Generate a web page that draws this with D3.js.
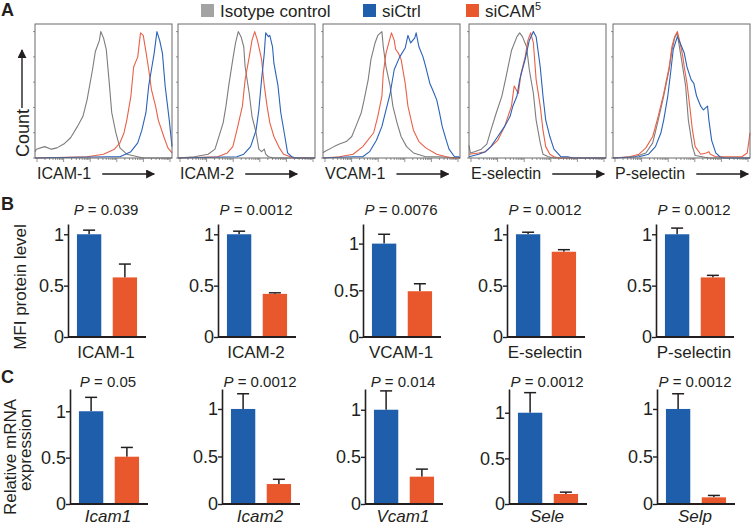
<!DOCTYPE html>
<html><head><meta charset="utf-8">
<script src="https://cdn.jsdelivr.net/npm/d3@7"></script>
<style>
body{margin:0;background:#fff}
svg text{font-family:"Liberation Sans",Arial,Helvetica,sans-serif;fill:#231f20}
</style>
</head><body>
<svg id="chart" width="751" height="528"></svg>
<script>
// ---------- DATA ----------
const legendLabels = ["Isotype control", "siCtrl", "siCAM"];
const histMarkers = ["ICAM-1", "ICAM-2", "VCAM-1", "E-selectin", "P-selectin"];
// histogram curves: [relative fluorescence position (0-100), % of max count]
const isotypeHist = [
  [[0,5],[1,7],[7,9],[12,7],[16,8],[21,11],[26,16],[31,25],[35,33],[38,46],[42,70],[44,84],[47,93],[48,100],[50,95],[52,86],[54,62],[56,36],[59,20],[62,8],[67,3],[75,1],[79,0],[100,0]],
  [[0,0],[12,1],[22,3],[27,7],[29,14],[33,28],[35,41],[37,57],[40,78],[42,91],[44,100],[46,96],[48,88],[49,72],[52,51],[54,33],[57,20],[59,7],[61,5],[63,7],[64,3],[66,1],[70,0],[100,0]],
  [[0,4],[1,5],[8,9],[12,11],[17,13],[21,17],[24,25],[28,36],[30,46],[33,62],[35,78],[38,91],[40,97],[43,100],[44,88],[46,72],[49,57],[51,41],[54,28],[57,17],[61,9],[66,4],[75,1],[85,1],[100,0]],
  [[0,10],[1,4],[4,5],[9,7],[13,11],[16,22],[20,36],[24,49],[27,64],[31,85],[35,96],[37,99],[39,96],[42,88],[44,70],[47,51],[49,30],[52,12],[54,3],[58,1],[62,0],[100,0]],
  [[0,0],[16,1],[24,4],[29,12],[33,30],[37,49],[41,70],[43,85],[45,95],[47,99],[48,91],[50,78],[53,57],[55,30],[58,9],[60,2],[65,1],[70,0],[100,0]]
];
const siCtrlHist = [
  [[0,0],[53,1],[62,1],[70,5],[75,12],[78,22],[81,36],[83,57],[85,70],[87,83],[89,100],[91,93],[93,83],[95,57],[98,30],[100,9]],
  [[0,0],[43,1],[48,3],[53,9],[57,22],[59,38],[61,62],[63,83],[64,99],[66,96],[67,97],[69,88],[70,75],[73,57],[75,36],[78,17],[80,4],[83,1],[86,0],[100,0]],
  [[0,0],[22,1],[29,1],[34,5],[39,14],[43,25],[46,38],[49,51],[52,70],[56,80],[60,87],[62,97],[64,91],[67,95],[68,99],[70,88],[73,80],[75,72],[78,59],[80,54],[83,46],[85,36],[87,25],[90,14],[92,7],[96,1],[99,1],[100,0]],
  [[0,1],[7,3],[12,5],[16,9],[21,17],[26,25],[30,33],[32,41],[35,49],[37,62],[41,78],[44,93],[47,100],[49,96],[52,72],[54,49],[56,30],[59,17],[62,7],[67,1],[72,1],[76,0],[100,0]],
  [[0,0],[19,1],[26,3],[31,9],[35,20],[37,30],[40,49],[42,67],[44,86],[47,96],[49,91],[52,83],[54,72],[57,62],[59,59],[61,49],[64,41],[66,38],[69,41],[70,30],[72,14],[75,4],[78,1],[81,0],[100,0]]
];
const siCAMHist = [
  [[0,0],[38,1],[50,3],[58,7],[62,12],[65,20],[67,30],[70,49],[72,72],[75,80],[77,99],[79,97],[81,84],[83,70],[85,54],[88,41],[90,30],[94,17],[97,8],[100,4]],
  [[0,0],[29,1],[36,4],[40,9],[43,22],[47,41],[49,62],[52,80],[54,93],[56,100],[58,93],[61,78],[63,57],[65,41],[67,28],[70,17],[74,8],[77,3],[82,1],[86,0],[100,0]],
  [[0,0],[12,1],[22,3],[29,9],[37,20],[40,33],[43,49],[44,67],[46,83],[48,91],[50,99],[52,93],[53,86],[55,83],[57,78],[60,59],[62,41],[66,22],[70,13],[75,8],[83,3],[90,1],[94,0],[100,0]],
  [[0,3],[7,4],[12,5],[16,9],[21,14],[26,25],[31,41],[33,57],[36,51],[38,67],[41,80],[43,93],[45,99],[47,91],[49,62],[52,41],[54,22],[56,9],[59,3],[62,1],[66,0],[100,0]],
  [[0,0],[12,1],[19,3],[24,8],[29,17],[33,33],[37,51],[41,72],[43,88],[45,96],[47,100],[49,91],[51,80],[52,72],[54,59],[56,41],[58,22],[60,9],[64,3],[68,4],[70,5],[71,3],[75,1],[94,1],[98,4],[100,20]]
];

const groups = ["siCtrl", "siCAM5"];
const yTickValues = [0, 0.5, 1];

const proteinLabels = ["ICAM-1", "ICAM-2", "VCAM-1", "E-selectin", "P-selectin"];
const proteinP = ["0.039", "0.0012", "0.0076", "0.0012", "0.0012"];
const proteinCtrl = [1, 1, 1, 1, 1];
const proteinCtrlErr = [0.04, 0.03, 0.10, 0.02, 0.06];
const proteinCAM = [0.58, 0.42, 0.49, 0.83, 0.58];
const proteinCAMErr = [0.13, 0.01, 0.08, 0.02, 0.02];

const mrnaLabels = ["Icam1", "Icam2", "Vcam1", "Sele", "Selp"];
const mrnaP = ["0.05", "0.0012", "0.014", "0.0012", "0.0012"];
const mrnaCtrl = [1, 1, 1, 1, 1];
const mrnaCtrlErr = [0.15, 0.16, 0.20, 0.22, 0.16];
const mrnaCAM = [0.51, 0.21, 0.29, 0.11, 0.07];
const mrnaCAMErr = [0.10, 0.05, 0.08, 0.02, 0.02];

// ---------- STYLE / LAYOUT ----------
const COL = {iso: "#a3a3a3", ctrl: "#1e5eab", cam: "#e9572c",
             isoLine: "#7d7d7d", ctrlLine: "#2a62b8", camLine: "#ea6048"};
const svg = d3.select("#chart");

// panel letters
[["A", 16], ["B", 210], ["C", 383]].forEach(([t, y]) =>
  svg.append("text").attr("x", 1).attr("y", y).attr("font-size", 18)
     .attr("font-weight", "bold").text(t));

// legend
const legendItems = [
  {label: legendLabels[0], color: COL.iso, x: 201},
  {label: legendLabels[1], color: COL.ctrl, x: 363},
  {label: legendLabels[2], color: COL.cam, x: 466, sup: "5"}
];
legendItems.forEach(d => {
  svg.append("rect").attr("x", d.x).attr("y", 4).attr("width", 13).attr("height", 13).attr("fill", d.color);
  const t = svg.append("text").attr("x", d.x + 19).attr("y", 17).attr("font-size", 17).text(d.label);
  if (d.sup) t.append("tspan").attr("font-size", 11).attr("dy", -7).text(d.sup);
});

// arrow marker
const defs = svg.append("defs");
defs.append("marker").attr("id", "arr").attr("viewBox", "0 0 10 10")
  .attr("refX", 9).attr("refY", 5).attr("markerWidth", 9).attr("markerHeight", 9)
  .attr("markerUnits", "userSpaceOnUse").attr("orient", "auto")
  .append("path").attr("d", "M0,0 L10,5 L0,10 Z").attr("fill", "#231f20");

// ---------- PANEL A ----------
const boxX = [35, 178, 323, 469, 613], boxW = 137, boxTop = 24, boxBot = 158;
const hy = d3.scaleLinear().domain([0, 106]).range([boxBot, boxTop]);
histMarkers.forEach((m, i) => {
  const g = svg.append("g");
  const hx = d3.scaleLinear().domain([0, 100]).range([boxX[i], boxX[i] + boxW]);
  const line = d3.line().x(d => hx(d[0])).y(d => hy(d[1]));
  // ticks
  const lx = d3.scaleLog().domain([1, 1e5]).range([boxX[i] + 2, boxX[i] + boxW - 2]);
  const ticks = lx.ticks();
  g.selectAll(".bt").data(ticks).join("line")
    .attr("x1", d => lx(d)).attr("x2", d => lx(d)).attr("y1", boxBot)
    .attr("y2", d => boxBot + (Math.log10(d) % 1 === 0 ? 4 : 2))
    .attr("stroke", "#666").attr("stroke-width", 0.7);
  g.selectAll(".lt").data([0, 20, 40, 60, 80, 100]).join("line")
    .attr("x1", boxX[i] - 2).attr("x2", boxX[i]).attr("y1", d => hy(d)).attr("y2", d => hy(d))
    .attr("stroke", "#666").attr("stroke-width", 0.7);
  [[isotypeHist[i], COL.isoLine], [siCAMHist[i], COL.camLine], [siCtrlHist[i], COL.ctrlLine]].forEach(([data, c]) =>
    g.append("path").attr("d", line(data)).attr("fill", "none").attr("stroke", c)
      .attr("stroke-width", 1.1).attr("stroke-linejoin", "round"));
  g.append("rect").attr("x", boxX[i]).attr("y", boxTop).attr("width", boxW).attr("height", boxBot - boxTop)
    .attr("fill", "none").attr("stroke", "#6a6a6a").attr("stroke-width", 1);
  const t = g.append("text").attr("x", boxX[i] + 2).attr("y", 179).attr("font-size", 16).text(m);
  const tw = t.node().getComputedTextLength();
  const ax0 = boxX[i] + 2 + tw + 11;
  g.append("line").attr("x1", ax0).attr("x2", ax0 + 52).attr("y1", 174).attr("y2", 174)
    .attr("stroke", "#231f20").attr("stroke-width", 1.4).attr("marker-end", "url(#arr)");
});
// Count label with arrow
svg.append("text").attr("transform", "translate(29,157) rotate(-90)").attr("font-size", 18).text("Count");
svg.append("line").attr("x1", 22).attr("x2", 22).attr("y1", 108).attr("y2", 50)
  .attr("stroke", "#231f20").attr("stroke-width", 1.4).attr("marker-end", "url(#arr)");

// ---------- BAR PANELS ----------
function barPanel(opts) {
  const {x0s, base, top, yMax, labels, pvals, ctrl, ctrlErr, cam, camErr, pY, labY, italic} = opts;
  labels.forEach((lab, i) => {
    const g = svg.append("g");
    const x0 = x0s[i], w = 78;
    const x = d3.scaleBand().domain(groups).range([x0, x0 + w]).paddingInner(0.32).paddingOuter(0.25);
    const y = d3.scaleLinear().domain([0, yMax[i]]).range([base, top]);
    const vals = [{g: groups[0], v: ctrl[i], e: ctrlErr[i], c: COL.ctrl},
                  {g: groups[1], v: cam[i], e: camErr[i], c: COL.cam}];
    // error bars
    vals.forEach(d => {
      const cx = x(d.g) + x.bandwidth() / 2;
      g.append("line").attr("x1", cx).attr("x2", cx).attr("y1", y(d.v)).attr("y2", y(d.v + d.e))
        .attr("stroke", "#231f20").attr("stroke-width", 1.5);
      g.append("line").attr("x1", cx - 6).attr("x2", cx + 6).attr("y1", y(d.v + d.e)).attr("y2", y(d.v + d.e))
        .attr("stroke", "#231f20").attr("stroke-width", 1.5);
    });
    g.selectAll(".bar").data(vals).join("rect")
      .attr("x", d => x(d.g)).attr("width", x.bandwidth())
      .attr("y", d => y(d.v)).attr("height", d => base - y(d.v)).attr("fill", d => d.c);
    // y axis
    const ax = g.append("g").attr("transform", `translate(${x0},0)`)
      .call(d3.axisLeft(y).tickValues(yTickValues).tickFormat(d3.format("")).tickSize(4).tickSizeOuter(0));
    ax.select(".domain").attr("stroke", "#231f20").attr("stroke-width", 1.6);
    ax.selectAll(".tick line").attr("stroke", "#231f20").attr("stroke-width", 1.4);
    ax.selectAll(".tick text").attr("font-size", 18).attr("fill", "#231f20")
      .attr("font-family", "Liberation Sans, Arial, sans-serif").attr("x", -4);
    // x baseline
    g.append("line").attr("x1", x0).attr("x2", x0 + w).attr("y1", base).attr("y2", base)
      .attr("stroke", "#231f20").attr("stroke-width", 2);
    // P value
    const pt = g.append("text").attr("x", x0 + w / 2 - 1).attr("y", pY).attr("text-anchor", "middle").attr("font-size", 15);
    pt.append("tspan").attr("font-style", "italic").text("P");
    pt.append("tspan").text(" = " + pvals[i]);
    // category label
    g.append("text").attr("x", x0 + w / 2 - 1).attr("y", labY).attr("text-anchor", "middle")
      .attr("font-size", 17).attr("font-style", italic ? "italic" : "normal").text(lab);
  });
}

barPanel({x0s: [68, 218, 363, 507, 656], base: 337, top: 224, yMax: [1.1, 1.1, 1.21, 1.1, 1.1],
  labels: proteinLabels, pvals: proteinP, ctrl: proteinCtrl, ctrlErr: proteinCtrlErr,
  cam: proteinCAM, camErr: proteinCAMErr, pY: 215, labY: 358, italic: false});
barPanel({x0s: [70, 222, 365, 509, 657], base: 504, top: 389, yMax: [1.24, 1.21, 1.22, 1.26, 1.21],
  labels: mrnaLabels, pvals: mrnaP, ctrl: mrnaCtrl, ctrlErr: mrnaCtrlErr,
  cam: mrnaCAM, camErr: mrnaCAMErr, pY: 387, labY: 522, italic: true});

// y axis titles
svg.append("text").attr("transform", "translate(26,287) rotate(-90)").attr("text-anchor", "middle")
  .attr("font-size", 17).text("MFI protein level");
svg.append("text").attr("transform", "translate(16,457) rotate(-90)").attr("text-anchor", "middle")
  .attr("font-size", 17).text("Relative mRNA");
svg.append("text").attr("transform", "translate(31,450) rotate(-90)").attr("text-anchor", "middle")
  .attr("font-size", 17).text("expression");
</script>
</body></html>
